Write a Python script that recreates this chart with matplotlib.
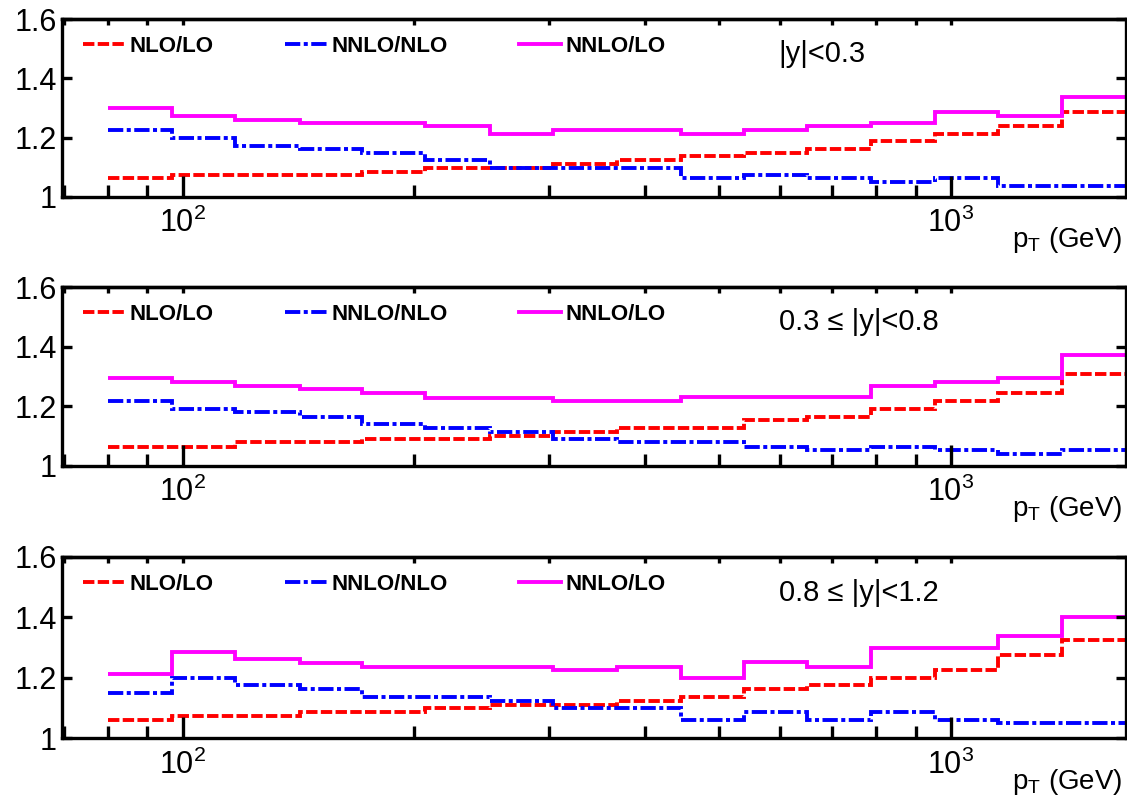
import matplotlib
matplotlib.use('Agg')
import matplotlib.pyplot as plt
from matplotlib.ticker import *

plt.rcParams['font.family'] = ['Liberation Sans', 'DejaVu Sans']
plt.rcParams['mathtext.default'] = 'regular'
plt.rcParams['lines.scale_dashes'] = False  # dashes in points, not in linewidths

# pT bin edges, GeV
edges = [80, 97, 117, 142, 171, 207, 251, 304, 368, 445, 538, 651, 788, 953, 1154, 1396, 1689]

# |y|<0.3
nlo_lo_1 = [1.062, 1.074, 1.074, 1.074, 1.085, 1.098, 1.098, 1.112, 1.125, 1.137, 1.148, 1.161, 1.188, 1.211, 1.238, 1.288]
nnlo_nlo_1 = [1.224, 1.199, 1.173, 1.161, 1.147, 1.125, 1.098, 1.098, 1.098, 1.062, 1.073, 1.062, 1.049, 1.065, 1.035, 1.035]
nnlo_lo_1 = [1.299, 1.274, 1.261, 1.250, 1.250, 1.238, 1.211, 1.224, 1.224, 1.211, 1.224, 1.238, 1.250, 1.288, 1.274, 1.337]

# 0.3<=|y|<0.8
nlo_lo_2 = [1.064, 1.064, 1.078, 1.078, 1.089, 1.089, 1.101, 1.113, 1.128, 1.128, 1.153, 1.165, 1.192, 1.218, 1.243, 1.307]
nnlo_nlo_2 = [1.218, 1.192, 1.179, 1.165, 1.140, 1.128, 1.113, 1.089, 1.078, 1.078, 1.064, 1.051, 1.064, 1.051, 1.039, 1.051]
nnlo_lo_2 = [1.293, 1.280, 1.267, 1.256, 1.243, 1.229, 1.229, 1.218, 1.218, 1.230, 1.230, 1.230, 1.269, 1.280, 1.293, 1.372]

# 0.8<=|y|<1.2
nlo_lo_3 = [1.062, 1.074, 1.074, 1.087, 1.087, 1.100, 1.112, 1.112, 1.124, 1.137, 1.163, 1.175, 1.201, 1.225, 1.276, 1.325]
nnlo_nlo_3 = [1.149, 1.200, 1.175, 1.163, 1.137, 1.137, 1.125, 1.101, 1.101, 1.062, 1.087, 1.062, 1.087, 1.062, 1.051, 1.051]
nnlo_lo_3 = [1.212, 1.287, 1.262, 1.248, 1.237, 1.237, 1.237, 1.225, 1.237, 1.201, 1.251, 1.237, 1.299, 1.299, 1.338, 1.400]

labels = ['NLO/LO', 'NNLO/NLO', 'NNLO/LO']
y_ranges = ['|y|<0.3', '0.3 \u2264 |y|<0.8', '0.8 \u2264 |y|<1.2']

nlo_lo = [nlo_lo_1, nlo_lo_2, nlo_lo_3]
nnlo_nlo = [nnlo_nlo_1, nnlo_nlo_2, nnlo_nlo_3]
nnlo_lo = [nnlo_lo_1, nnlo_lo_2, nnlo_lo_3]

fig = plt.figure(figsize=(11.27, 8.0), dpi=100)
# left, bottom, width, height of each panel
boxes = [(0.0547, 0.754, 0.944, 0.222),
         (0.0547, 0.418, 0.944, 0.223),
         (0.0547, 0.077, 0.944, 0.227)]

lw = 2.8
for i in range(3):
    ax = fig.add_axes(boxes[i])
    ax.stairs(nlo_lo[i], edges, baseline=None, color='red', lw=lw,
              ls=(0, (8.2, 2.4)), label=labels[0])
    ax.stairs(nnlo_nlo[i], edges, baseline=None, color='blue', lw=lw,
              ls=(0, (11, 2.5, 2.9, 2.5)), label=labels[1])
    ax.stairs(nnlo_lo[i], edges, baseline=None, color='magenta', lw=lw,
              label=labels[2])

    ax.set_xscale('log')
    ax.set_xlim(69.6, 1689)
    ax.set_ylim(1, 1.6)
    ax.yaxis.set_major_locator(MultipleLocator(0.2))
    ax.yaxis.set_major_formatter(FormatStrFormatter('%g'))
    ax.xaxis.set_minor_formatter(NullFormatter())

    ax.tick_params(axis='both', which='both', direction='in', width=2.4)
    ax.tick_params(axis='x', which='major', length=15, pad=8, labelsize=22)
    ax.tick_params(axis='x', which='minor', length=9)
    ax.tick_params(axis='y', which='major', length=7, right=True, pad=3.6,
                   labelsize=22)
    for sp in ax.spines.values():
        sp.set_linewidth(2.4)

    # short ticks along the top edge
    top = ax.secondary_xaxis('top')
    top.tick_params(which='both', direction='in', length=4, width=2.4,
                    labeltop=False)
    top.spines['top'].set_linewidth(2.4)

    ax.legend(loc='center left', bbox_to_anchor=(0.02, 0.848), ncol=3,
              frameon=False, borderpad=0, borderaxespad=0, handlelength=1.9,
              handletextpad=0.2, columnspacing=3.2,
              prop={'weight': 'bold', 'size': 16})
    ax.text(0.674, 0.803, y_ranges[i], transform=ax.transAxes, fontsize=21,
            va='center')
    # axis title under the right end of the axis
    ax.annotate(r'$\mathregular{p_T}$ (GeV)', xy=(1, 0), xycoords='axes fraction',
                xytext=(-2, -20.5), textcoords='offset points',
                fontsize=20, ha='right', va='top')

plt.savefig('out.png', dpi=100)
